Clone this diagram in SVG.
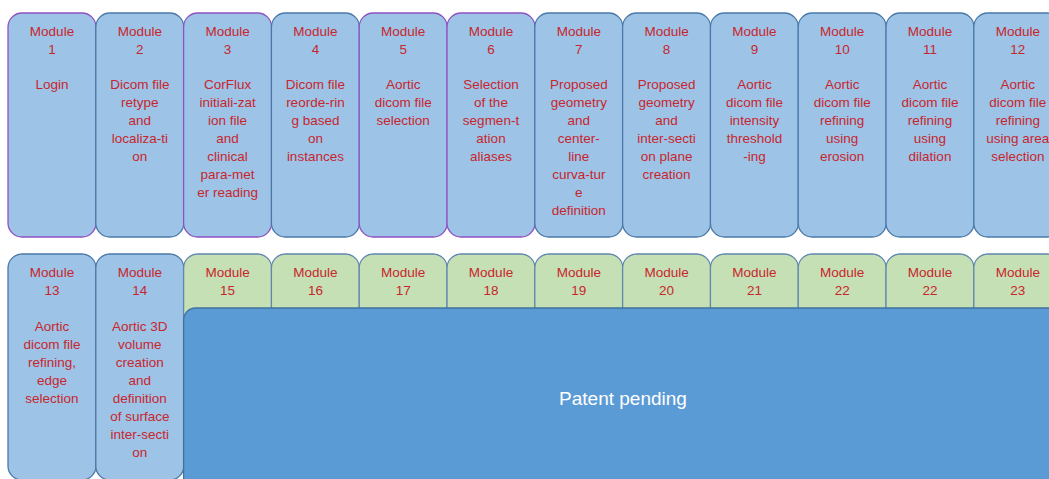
<svg xmlns="http://www.w3.org/2000/svg" width="1049" height="479" viewBox="0 0 1049 479">
<style>
.box{fill:#9DC3E6;stroke:#4A79A8;stroke-width:1.3}
.pur{stroke:#8E52C2}
.grn{fill:#C5E0B4;stroke:#5F86AE;stroke-width:1.3}
.big{fill:#5B9BD5;stroke:#41719C;stroke-width:1.3}
text{font-family:"Liberation Sans",Arial,sans-serif;font-size:13.5px;fill:#C8262E;text-anchor:middle}
.pp{fill:#FFFFFF;font-size:19px}
</style>
<rect width="1049" height="479" fill="#FFFFFF"/>
<g id="m1"><rect class="box pur" x="8" y="13" width="88" height="224" rx="14"/><text x="52" y="36">Module</text><text x="52" y="54">1</text><text x="52" y="89">Login</text></g>
<g id="m2"><rect class="box" x="95.8" y="13" width="88" height="224" rx="14"/><text x="139.8" y="36">Module</text><text x="139.8" y="54">2</text><text x="139.8" y="89">Dicom file</text><text x="139.8" y="107">retype</text><text x="139.8" y="125">and</text><text x="139.8" y="143">localiza-ti</text><text x="139.8" y="161">on</text></g>
<g id="m3"><rect class="box pur" x="183.6" y="13" width="88" height="224" rx="14"/><text x="227.6" y="36">Module</text><text x="227.6" y="54">3</text><text x="227.6" y="89">CorFlux</text><text x="227.6" y="107">initiali-zat</text><text x="227.6" y="125">ion file</text><text x="227.6" y="143">and</text><text x="227.6" y="161">clinical</text><text x="227.6" y="179">para-met</text><text x="227.6" y="197">er reading</text></g>
<g id="m4"><rect class="box" x="271.4" y="13" width="88" height="224" rx="14"/><text x="315.4" y="36">Module</text><text x="315.4" y="54">4</text><text x="315.4" y="89">Dicom file</text><text x="315.4" y="107">reorde-rin</text><text x="315.4" y="125">g based</text><text x="315.4" y="143">on</text><text x="315.4" y="161">instances</text></g>
<g id="m5"><rect class="box pur" x="359.2" y="13" width="88" height="224" rx="14"/><text x="403.2" y="36">Module</text><text x="403.2" y="54">5</text><text x="403.2" y="89">Aortic</text><text x="403.2" y="107">dicom file</text><text x="403.2" y="125">selection</text></g>
<g id="m6"><rect class="box pur" x="447" y="13" width="88" height="224" rx="14"/><text x="491" y="36">Module</text><text x="491" y="54">6</text><text x="491" y="89">Selection</text><text x="491" y="107">of the</text><text x="491" y="125">segmen-t</text><text x="491" y="143">ation</text><text x="491" y="161">aliases</text></g>
<g id="m7"><rect class="box" x="534.8" y="13" width="88" height="224" rx="14"/><text x="578.8" y="36">Module</text><text x="578.8" y="54">7</text><text x="578.8" y="89">Proposed</text><text x="578.8" y="107">geometry</text><text x="578.8" y="125">and</text><text x="578.8" y="143">center-</text><text x="578.8" y="161">line</text><text x="578.8" y="179">curva-tur</text><text x="578.8" y="197">e</text><text x="578.8" y="215">definition</text></g>
<g id="m8"><rect class="box" x="622.6" y="13" width="88" height="224" rx="14"/><text x="666.6" y="36">Module</text><text x="666.6" y="54">8</text><text x="666.6" y="89">Proposed</text><text x="666.6" y="107">geometry</text><text x="666.6" y="125">and</text><text x="666.6" y="143">inter-secti</text><text x="666.6" y="161">on plane</text><text x="666.6" y="179">creation</text></g>
<g id="m9"><rect class="box" x="710.4" y="13" width="88" height="224" rx="14"/><text x="754.4" y="36">Module</text><text x="754.4" y="54">9</text><text x="754.4" y="89">Aortic</text><text x="754.4" y="107">dicom file</text><text x="754.4" y="125">intensity</text><text x="754.4" y="143">threshold</text><text x="754.4" y="161">-ing</text></g>
<g id="m10"><rect class="box" x="798.2" y="13" width="88" height="224" rx="14"/><text x="842.2" y="36">Module</text><text x="842.2" y="54">10</text><text x="842.2" y="89">Aortic</text><text x="842.2" y="107">dicom file</text><text x="842.2" y="125">refining</text><text x="842.2" y="143">using</text><text x="842.2" y="161">erosion</text></g>
<g id="m11"><rect class="box" x="886" y="13" width="88" height="224" rx="14"/><text x="930" y="36">Module</text><text x="930" y="54">11</text><text x="930" y="89">Aortic</text><text x="930" y="107">dicom file</text><text x="930" y="125">refining</text><text x="930" y="143">using</text><text x="930" y="161">dilation</text></g>
<g id="m12"><rect class="box" x="973.8" y="13" width="88" height="224" rx="14"/><text x="1017.8" y="36">Module</text><text x="1017.8" y="54">12</text><text x="1017.8" y="89">Aortic</text><text x="1017.8" y="107">dicom file</text><text x="1017.8" y="125">refining</text><text x="1017.8" y="143">using area</text><text x="1017.8" y="161">selection</text></g>
<g id="m13"><rect class="box" x="8" y="254" width="88" height="226" rx="14"/><text x="52" y="277">Module</text><text x="52" y="295">13</text><text x="52" y="331">Aortic</text><text x="52" y="349">dicom file</text><text x="52" y="367">refining,</text><text x="52" y="385">edge</text><text x="52" y="403">selection</text></g>
<g id="m14"><rect class="box" x="95.8" y="254" width="88" height="226" rx="14"/><text x="139.8" y="277">Module</text><text x="139.8" y="295">14</text><text x="139.8" y="331">Aortic 3D</text><text x="139.8" y="349">volume</text><text x="139.8" y="367">creation</text><text x="139.8" y="385">and</text><text x="139.8" y="403">definition</text><text x="139.8" y="421">of surface</text><text x="139.8" y="439">inter-secti</text><text x="139.8" y="457">on</text></g>
<g id="m15"><rect class="grn" x="183.6" y="254" width="88" height="80" rx="14"/><text x="227.6" y="277">Module</text><text x="227.6" y="295">15</text></g>
<g id="m16"><rect class="grn" x="271.4" y="254" width="88" height="80" rx="14"/><text x="315.4" y="277">Module</text><text x="315.4" y="295">16</text></g>
<g id="m17"><rect class="grn" x="359.2" y="254" width="88" height="80" rx="14"/><text x="403.2" y="277">Module</text><text x="403.2" y="295">17</text></g>
<g id="m18"><rect class="grn" x="447" y="254" width="88" height="80" rx="14"/><text x="491" y="277">Module</text><text x="491" y="295">18</text></g>
<g id="m19"><rect class="grn" x="534.8" y="254" width="88" height="80" rx="14"/><text x="578.8" y="277">Module</text><text x="578.8" y="295">19</text></g>
<g id="m20"><rect class="grn" x="622.6" y="254" width="88" height="80" rx="14"/><text x="666.6" y="277">Module</text><text x="666.6" y="295">20</text></g>
<g id="m21"><rect class="grn" x="710.4" y="254" width="88" height="80" rx="14"/><text x="754.4" y="277">Module</text><text x="754.4" y="295">21</text></g>
<g id="m22a"><rect class="grn" x="798.2" y="254" width="88" height="80" rx="14"/><text x="842.2" y="277">Module</text><text x="842.2" y="295">22</text></g>
<g id="m22b"><rect class="grn" x="886" y="254" width="88" height="80" rx="14"/><text x="930" y="277">Module</text><text x="930" y="295">22</text></g>
<g id="m23"><rect class="grn" x="973.8" y="254" width="88" height="80" rx="14"/><text x="1017.8" y="277">Module</text><text x="1017.8" y="295">23</text></g>
<g id="patent"><rect class="big" x="183.6" y="308" width="878" height="190" rx="12"/><text class="pp" x="623" y="405">Patent pending</text></g>
</svg>
